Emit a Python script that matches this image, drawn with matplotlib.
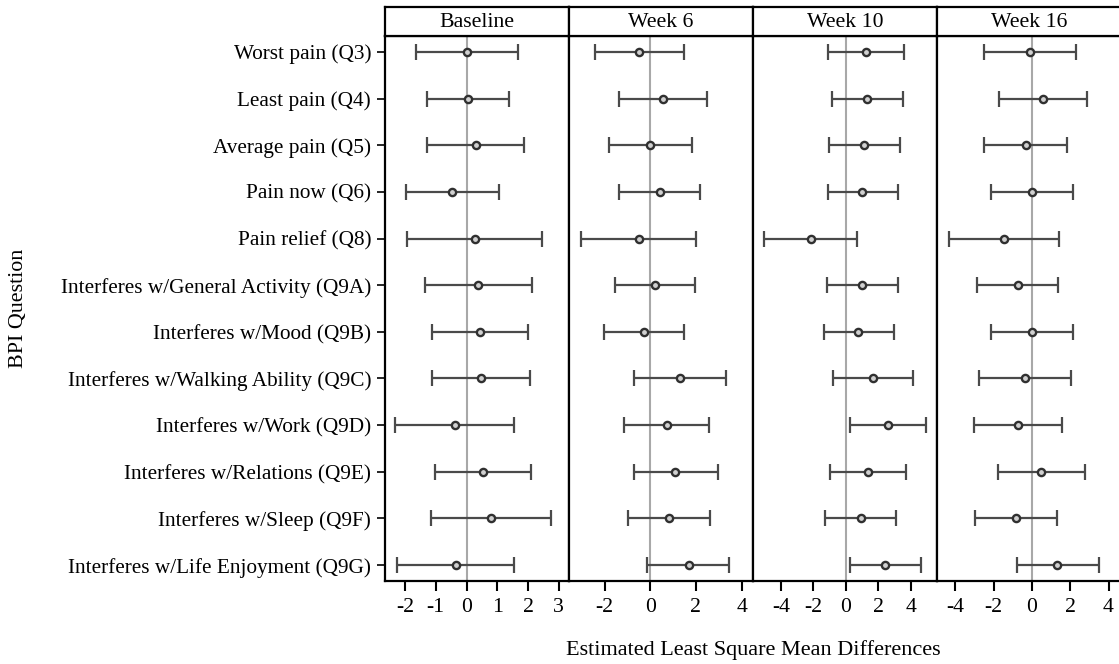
import numpy as np
import matplotlib
matplotlib.use('Agg')
from matplotlib import pyplot as plt

plt.rcParams['font.family'] = ['Liberation Serif', 'DejaVu Serif']
plt.rcParams['axes.unicode_minus'] = False

questions = ['Worst pain (Q3)', 'Least pain (Q4)', 'Average pain (Q5)', 'Pain now (Q6)',
             'Pain relief (Q8)', 'Interferes w/General Activity (Q9A)', 'Interferes w/Mood (Q9B)',
             'Interferes w/Walking Ability (Q9C)', 'Interferes w/Work (Q9D)',
             'Interferes w/Relations (Q9E)', 'Interferes w/Sleep (Q9F)',
             'Interferes w/Life Enjoyment (Q9G)']
visits = ['Baseline', 'Week 6', 'Week 10', 'Week 16']

# estimate, lower CI, upper CI per visit
baseline_est = [0.01, 0.05, 0.31, -0.46, 0.26, 0.38, 0.44, 0.46, -0.38, 0.53, 0.78, -0.35]
baseline_lo = [-1.63, -1.28, -1.28, -1.97, -1.93, -1.36, -1.12, -1.12, -2.31, -1.04, -1.16, -2.25]
baseline_hi = [1.68, 1.38, 1.88, 1.05, 2.45, 2.14, 2.01, 2.06, 1.55, 2.11, 2.75, 1.55]

week6_est = [-0.48, 0.54, 0.0, 0.41, -0.51, 0.22, -0.26, 1.32, 0.72, 1.10, 0.83, 1.68]
week6_lo = [-2.43, -1.39, -1.83, -1.36, -3.06, -1.55, -2.03, -0.70, -1.15, -0.73, -0.99, -0.13]
week6_hi = [1.46, 2.49, 1.83, 2.18, 2.0, 1.96, 1.49, 3.33, 2.59, 2.98, 2.62, 3.46]

week10_est = [1.22, 1.32, 1.13, 1.01, -2.16, 1.01, 0.76, 1.65, 2.56, 1.36, 0.91, 2.43]
week10_lo = [-1.09, -0.87, -1.05, -1.13, -5.03, -1.18, -1.38, -0.82, 0.25, -0.97, -1.30, 0.25]
week10_hi = [3.55, 3.51, 3.32, 3.20, 0.70, 3.20, 2.95, 4.10, 4.93, 3.69, 3.07, 4.62]

week16_est = [-0.12, 0.60, -0.31, 0.0, -1.47, -0.74, 0.0, -0.34, -0.71, 0.48, -0.83, 1.33]
week16_lo = [-2.5, -1.69, -2.5, -2.12, -4.31, -2.88, -2.12, -2.74, -3.02, -1.78, -2.95, -0.78]
week16_hi = [2.29, 2.88, 1.84, 2.16, 1.41, 1.38, 2.12, 2.03, 1.57, 2.78, 1.29, 3.5]

estimates = [baseline_est, week6_est, week10_est, week16_est]
lowers = [baseline_lo, week6_lo, week10_lo, week16_lo]
uppers = [baseline_hi, week6_hi, week10_hi, week16_hi]

xlims = [(-2.65, 3.33), (-3.57, 4.5), (-5.72, 5.6), (-4.95, 4.65)]
xticks = [[-2, -1, 0, 1, 2, 3], [-2, 0, 2, 4], [-4, -2, 0, 2, 4], [-4, -2, 0, 2, 4]]

fig = plt.figure(figsize=(11.19, 6.64), dpi=100)
W, H = 1119.0, 664.0
left0 = 385 / W
pw = 184 / W
bottom = 1 - 581 / H
top = 1 - 36 / H
htop = 1 - 7 / H
fs = 15.3

y = np.arange(len(questions))
for i, v in enumerate(visits):
    ax = fig.add_axes([left0 + i * pw, bottom, pw, top - bottom])
    est = np.array(estimates[i])
    lo = np.array(lowers[i])
    hi = np.array(uppers[i])
    ax.axvline(0, color='#a8a8a8', lw=1.5, zorder=1)
    ax.errorbar(est, y, xerr=[est - lo, hi - est], fmt='none', ecolor='#4a4a4a',
                elinewidth=1.6, capsize=5.5, capthick=1.6, zorder=2)
    ax.plot(est, y, 'o', ms=5.2, mfc='#d0d0d0', mec='#303030', mew=1.7, zorder=3)
    ax.set_xlim(*xlims[i])
    ax.set_ylim(len(questions) - 0.66, -0.34)
    ax.set_xticks(xticks[i])
    ax.tick_params(axis='x', labelsize=fs + 0.4, length=7, width=1.5, direction='out', pad=5)
    if i == 0:
        ax.set_yticks(y)
        ax.set_yticklabels(questions, fontsize=fs)
        ax.tick_params(axis='y', length=6, width=1.2, pad=4)
    else:
        ax.set_yticks([])
    for s in ax.spines.values():
        s.set_linewidth(1.6)

    hax = fig.add_axes([left0 + i * pw, top, pw, htop - top])
    hax.set_xticks([])
    hax.set_yticks([])
    for s in hax.spines.values():
        s.set_linewidth(1.6)
    hax.text(0.5, 0.48, v, ha='center', va='center', fontsize=fs + 0.4, transform=hax.transAxes)

fig.text(19 / W, (bottom + top) / 2, 'BPI Question', rotation=90,
         ha='center', va='center', fontsize=fs + 0.5)
fig.text(left0 + 2 * pw, 1 - 650 / H, 'Estimated Least Square Mean Differences',
         ha='center', va='center', fontsize=16)

plt.savefig('out.png', dpi=100)
